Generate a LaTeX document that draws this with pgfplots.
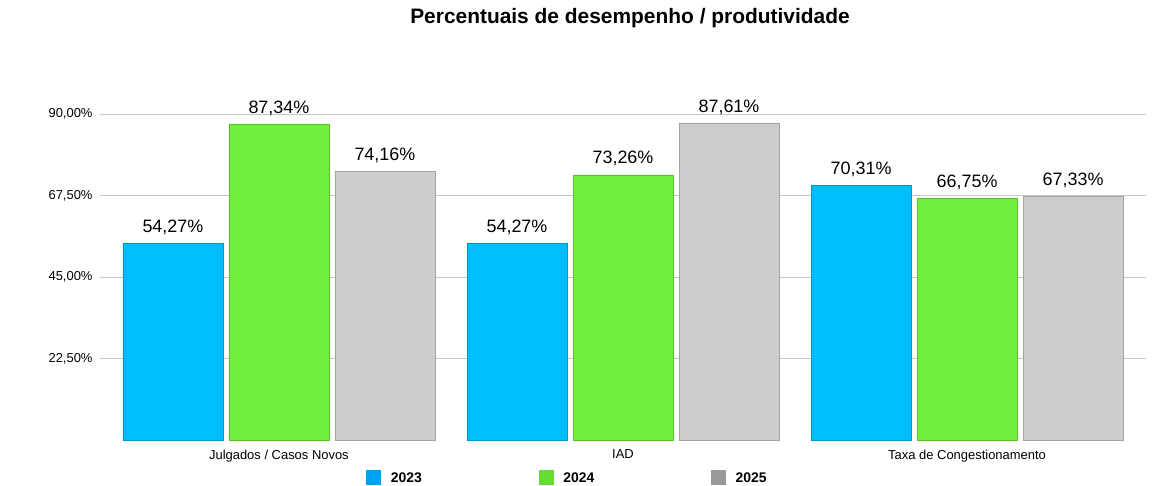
\documentclass[border=0pt]{standalone}
\usepackage{pgfplots}
\pgfplotsset{compat=1.18}
\usepackage{fontspec}
\setmainfont{Liberation Sans}
\definecolor{c23}{RGB}{0,190,250}
\definecolor{c24}{RGB}{110,240,60}
\definecolor{c25}{RGB}{205,205,205}
\definecolor{l23}{RGB}{0,160,240}
\definecolor{l24}{RGB}{102,221,51}
\definecolor{l25}{RGB}{153,153,153}
\begin{document}
\begin{tikzpicture}
\begin{axis}[
  scale only axis,
  width=1046bp, height=362bp,
  ybar=6bp, bar width=100bp,
  xmin=-0.52, xmax=2.52,
  ymin=0, ymax=100,
  xtick={0,1,2},
  xticklabels={Julgados / Casos Novos, IAD, Taxa de Congestionamento},
  x tick label style={font=\fontsize{13}{15}\selectfont, yshift=-2bp},
  major x tick style={draw=none},
  ytick={22.5,45,67.5,90},
  y tick label style={font=\fontsize{13}{15}\selectfont, xshift=-4bp},
  yticklabel={\pgfmathprintnumber[fixed,fixed zerofill,precision=2,use comma]{\tick}\%},
  /pgf/number format/assume math mode=true,
  ymajorgrids,
  grid style={draw=black!22, line width=1.2pt},
  axis line style={draw=none},
  major y tick style={draw=none},
  nodes near coords={\pgfmathprintnumber[fixed,fixed zerofill,precision=2,use comma]{\pgfplotspointmeta}\%},
  every node near coord/.append style={font=\fontsize{18}{20}\selectfont, yshift=5bp},
  legend style={at={(axis description cs:0.447,-0.105)}, anchor=center, draw=none,
    legend columns=3, font=\bfseries\fontsize{14}{16}\selectfont,
    /tikz/every even column/.append style={column sep=115bp}},
]
\addplot[fill=c23, draw=c23!80!black, legend image code/.code={\fill[l23] (0bp,-6bp) rectangle (14bp,8bp);}] coordinates {(0,54.27) (1,54.27) (2,70.31)};
\addplot[fill=c24, draw=c24!80!black, legend image code/.code={\fill[l24] (0bp,-6bp) rectangle (14bp,8bp);}] coordinates {(0,87.34) (1,73.26) (2,66.75)};
\addplot[fill=c25, draw=c25!80!black, legend image code/.code={\fill[l25] (0bp,-6bp) rectangle (14bp,8bp);}] coordinates {(0,74.16) (1,87.61) (2,67.33)};
\legend{\hspace{8bp}2023,\hspace{8bp}2024,\hspace{8bp}2025}
\end{axis}
\node[font=\bfseries\fontsize{21}{25}\selectfont] at (530bp,422bp) {Percentuais de desempenho / produtividade};
\pgfresetboundingbox
\path[use as bounding box] (-100bp,-46bp) rectangle (1076bp,440bp);
\end{tikzpicture}
\end{document}
